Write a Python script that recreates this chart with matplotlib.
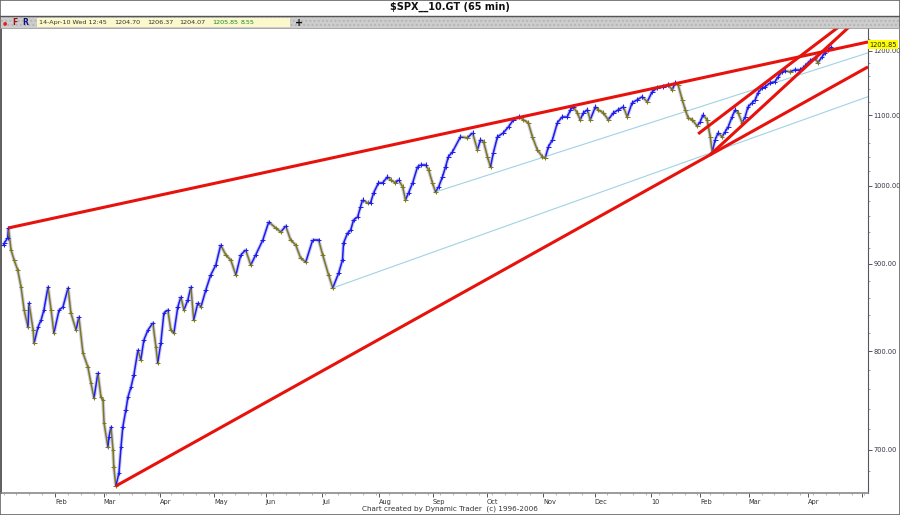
import matplotlib
matplotlib.use("Agg")
import numpy as np
import matplotlib.pyplot as plt
from matplotlib.collections import LineCollection
from matplotlib.patches import Rectangle
from matplotlib.lines import Line2D
from matplotlib.ticker import FixedLocator, FuncFormatter, NullFormatter
from matplotlib.transforms import offset_copy

# trading-day index counted from 2-Jan-2009, close
days = [0.0, 0.3, 1.6, 1.9, 2.9, 4.1, 5.5, 6.8, 8.0, 9.5, 9.9, 11.5, 11.9, 13.4, 14.6,
        15.7, 17.3, 18.5, 19.6, 21.6, 23.1, 25.1, 26.2, 28.2, 29.3, 30.9, 32.8, 34.0,
        35.2, 36.7, 37.9, 38.7, 39.1, 40.6, 41.0, 41.8, 42.6, 42.9, 43.7, 44.9, 45.7,
        46.4, 47.6, 48.4, 49.6, 50.7, 52.3, 53.4, 54.6, 56.2, 58.1, 59.3, 60.0, 61.2,
        62.4, 63.9, 65.1, 66.3, 67.8, 69.0, 70.2, 71.7, 72.9, 74.0, 75.6, 76.8, 78.7,
        80.6, 82.6, 84.5, 86.5, 88.4, 90.4, 92.3, 94.2, 96.2, 98.1, 100.9, 103.2, 105.9,
        107.9, 109.8, 111.7, 113.7, 115.6, 117.6, 120.3, 122.6, 124.2, 126.5, 128.1,
        130.4, 131.9, 132.3, 133.9, 135.1, 136.2, 137.8, 138.9, 139.7, 141.7, 142.8,
        144.0, 145.9, 147.5, 149.4, 150.6, 152.5, 153.7, 155.3, 156.4, 157.6, 159.2,
        161.1, 162.3, 164.2, 165.4, 166.9, 168.1, 169.3, 170.8, 172.0, 173.1, 174.7,
        177.8, 180.5, 182.5, 184.4, 185.6, 186.8, 188.3, 189.5, 190.6, 192.2, 194.5,
        196.5, 198.4, 200.4, 202.3, 204.2, 205.8, 207.7, 209.7, 210.8, 212.0, 213.6,
        215.5, 217.4, 219.4, 220.6, 221.7, 223.3, 224.4, 225.6, 227.2, 228.3, 230.3,
        231.4, 233.4, 235.3, 237.3, 239.2, 241.2, 242.7, 244.6, 246.6, 248.5, 250.5,
        252.4, 254.4, 256.7, 258.6, 260.2, 261.4, 262.5, 264.1, 265.3, 266.4, 268.0,
        269.9, 271.1, 272.2, 273.8, 275.0, 275.8, 276.9, 278.1, 279.6, 280.8, 282.0,
        283.5, 284.7, 285.9, 287.4, 288.6, 289.7, 291.3, 292.5, 293.6, 295.2, 296.3,
        298.3, 300.2, 301.4, 302.9, 304.1, 306.1, 308.0, 309.9, 311.1, 311.9, 313.8,
        315.8, 316.9, 318.5, 319.7, 320.8, 322.0]
closes = [923.3, 925.8, 932.1, 944.8, 917.1, 904.8, 892.6, 872.4, 845.7, 826.5, 853.7,
          823.2, 808.9, 826.5, 834.4, 845.7, 872.4, 845.7, 819.8, 845.7, 849.1, 871.2,
          842.3, 823.2, 837.7, 798.0, 783.1, 766.3, 750.9, 776.7, 751.9, 748.9, 726.0,
          702.8, 712.4, 722.1, 700.0, 684.1, 666.8, 678.6, 702.8, 722.1, 738.9, 751.9,
          762.2, 774.6, 801.2, 790.5, 812.2, 823.2, 831.0, 804.5, 787.3, 808.9, 842.3,
          845.7, 823.2, 819.8, 849.1, 860.7, 845.7, 857.2, 872.4, 834.4, 853.7, 849.1,
          868.8, 886.6, 898.7, 923.3, 910.9, 904.8, 886.6, 910.9, 917.1, 898.7, 910.9,
          929.6, 952.5, 944.8, 939.7, 947.3, 929.6, 923.3, 907.2, 902.3, 929.6, 929.6,
          910.9, 886.6, 871.2, 889.0, 904.8, 925.8, 938.4, 942.2, 955.1, 959.0, 972.0,
          981.3, 977.3, 977.3, 990.6, 1004.1, 1004.1, 1012.3, 1008.2, 1004.1, 1008.2,
          998.7, 981.3, 990.6, 1004.1, 1026.1, 1028.9, 1028.9, 1021.9, 1004.1, 991.9,
          998.7, 1012.3, 1026.1, 1040.1, 1047.1, 1068.5, 1067.1, 1074.3, 1050.0, 1064.2,
          1061.4, 1040.1, 1026.1, 1045.7, 1068.5, 1074.3, 1083.1, 1093.4, 1097.8, 1093.4,
          1088.9, 1068.5, 1050.0, 1040.1, 1038.7, 1054.2, 1064.2, 1088.9, 1097.8, 1097.8,
          1108.2, 1112.7, 1103.7, 1093.4, 1103.7, 1108.2, 1093.4, 1112.7, 1108.2, 1103.7,
          1093.4, 1103.7, 1108.2, 1112.7, 1097.8, 1118.8, 1123.3, 1127.9, 1120.3, 1135.5,
          1141.7, 1143.2, 1146.3, 1138.6, 1149.4, 1146.3, 1123.3, 1108.2, 1096.3, 1093.4,
          1084.3, 1090.4, 1100.8, 1093.4, 1068.5, 1047.1, 1064.2, 1074.3, 1068.5, 1075.8,
          1083.1, 1097.8, 1108.2, 1103.7, 1088.9, 1097.8, 1112.7, 1118.8, 1123.3, 1134.0,
          1141.7, 1143.2, 1149.4, 1151.0, 1158.8, 1166.6, 1168.2, 1166.6, 1169.8, 1169.8,
          1173.0, 1176.1, 1184.1, 1188.9, 1180.9, 1190.5, 1196.9, 1201.8, 1205.85]

# first trading day of each month (same day index)
month_pos = [20, 39, 61, 82, 102, 124, 146, 167, 188, 210, 230, 252, 271, 290, 313, 334]
month_lbl = ["Feb", "Mar", "Apr", "May", "Jun", "Jul", "Aug", "Sep", "Oct", "Nov",
             "Dec", "10", "Feb", "Mar", "Apr", ""]

price_ticks = [700, 800, 900, 1000, 1100, 1200]
last_price = 1205.85
info_fields = ["14-Apr-10 Wed 12:45", "1204.70", "1206.37", "1204.07", "1205.85", "8.55"]

# trend lines as (day, price) anchor pairs, extended to the right edge
red_lines = [((1.9, 944.8), (335.2, 1213.5)),
             ((43.7, 666.8), (275.0, 1042.9)),
             ((270.3, 1072.8), (324.7, 1238.6)),
             ((275.0, 1042.9), (329.4, 1240.9))]
blue_lines = [((128.1, 871.2), (335.2, 1126.4)),
              ((168.1, 991.9), (335.2, 1195.3))]

XMIN, XMAX = -1.0, 336.4
YMIN, YMAX = 660.5, 1237.7
W, H = 900, 515


def extend(a, b, x_end):
    (x0, p0), (x1, p1) = a, b
    lp = np.log(p0) + (np.log(p1) - np.log(p0)) * (x_end - x0) / (x1 - x0)
    return [x0, x_end], [p0, np.exp(lp)]


fig = plt.figure(figsize=(W / 100, H / 100), dpi=100)
fig.patch.set_facecolor("white")


def fx(px):
    return px / W


def fy(py):
    return 1 - py / H


ax = fig.add_axes([fx(1), fy(493), fx(867), 465 / H])
ax.set_yscale("log")
ax.set_xlim(XMIN, XMAX)
ax.set_ylim(YMIN, YMAX)

# trend lines
for a, b in blue_lines:
    xs, ys = extend(a, b, XMAX)
    ax.plot(xs, ys, color="#9fd3e3", lw=0.8, zorder=2)
for a, b in red_lines:
    xs, ys = extend(a, b, XMAX)
    ax.plot(xs, ys, color="#e8120c", lw=2.2, zorder=4, solid_capstyle="butt")

# price bars
x = np.array(days)
y = np.array(closes)
ax.plot(x, y, color="#b9b6ea", lw=2.6, alpha=0.7, zorder=2.5)
pts = np.column_stack([x, y])
segs = np.stack([pts[:-1], pts[1:]], axis=1)
seg_col = ["#1c1cf0" if y[i + 1] >= y[i] else "#7e7a12" for i in range(len(y) - 1)]
ax.add_collection(LineCollection(segs, colors=seg_col, linewidths=1.1, zorder=3))
pt_col = ["#1c1cf0"] + seg_col
ax.scatter(x, y, marker="+", s=12, c=pt_col, linewidths=0.7, zorder=3)

# axes styling
ax.spines["top"].set_visible(False)
ax.spines["left"].set_color("#5a5a5a")
ax.spines["left"].set_linewidth(1.4)
ax.spines["right"].set_color("#555566")
ax.spines["bottom"].set_color("#8a8a8a")
ax.spines["bottom"].set_linewidth(1.2)

ax.yaxis.tick_right()
ax.yaxis.set_major_locator(FixedLocator(price_ticks))
ax.yaxis.set_major_formatter(FuncFormatter(lambda v, p: f"{v:.2f}"))
ax.yaxis.set_minor_locator(FixedLocator(list(range(680, 1240, 20))))
ax.yaxis.set_minor_formatter(NullFormatter())
ax.tick_params(axis="y", which="major", direction="out", length=3, width=0.7,
               color="#555566", labelsize=4.8, labelcolor="#333344", pad=1)
ax.tick_params(axis="y", which="minor", direction="out", length=1.5, width=0.5,
               color="#777788")

ax.set_xticks(month_pos)
ax.set_xticklabels(month_lbl)
ax.xaxis.set_minor_locator(FixedLocator(list(np.arange(0, 336, 5))))
ax.tick_params(axis="x", which="major", direction="out", length=3, width=0.7,
               color="#555555", labelsize=4.8, labelcolor="#333333", pad=1.5)
ax.tick_params(axis="x", which="minor", direction="out", length=1.2, width=0.5,
               color="#999999")
for lbl in ax.get_xticklabels():
    lbl.set_horizontalalignment("left")

# last price flag, nudged up so the 1200.00 label stays readable
flag_tr = offset_copy(ax.get_yaxis_transform(), fig=fig, x=0, y=2.5, units="dots")
ax.text(1.001, last_price, f"{last_price:.2f}", transform=flag_tr,
        fontsize=4.8, color="#222222", va="center", ha="left", zorder=10, clip_on=False,
        bbox=dict(boxstyle="square,pad=0.2", fc="#ffff00", ec="none"))

# header: title strip and toolbar strip
fig.text(0.5, fy(7), r"\$SPX__10.GT (65 min)", ha="center", va="center",
         fontsize=7, fontweight="bold", color="#111111")
fig.add_artist(Line2D([0, 1], [fy(15.5), fy(15.5)], color="#555555", lw=1.0))
fig.add_artist(Rectangle((0, fy(27.5)), 1, (27.5 - 16) / H, transform=fig.transFigure,
                         fc="#cdcdcd", ec="#b5b5b5", hatch="....", lw=0))
fig.add_artist(Line2D([0, 1], [fy(27.5), fy(27.5)], color="#9a9a9a", lw=0.6))
fig.add_artist(Rectangle((fx(37), fy(27)), fx(253), 9 / H, transform=fig.transFigure,
                         fc="#fbf8cc", ec="none"))
fig.text(fx(5), fy(22.5), "\u25CF", color="#e02020", fontsize=3.5, ha="center", va="center")
fig.text(fx(15), fy(22.5), "F", color="#a01010", fontsize=5.5, fontweight="bold",
         ha="center", va="center")
fig.text(fx(25), fy(22.5), "R", color="#101080", fontsize=5.5, fontweight="bold",
         ha="center", va="center")
info_x = [39, 114, 147, 179, 212, 241]
for i, (px, s) in enumerate(zip(info_x, info_fields)):
    fig.text(fx(px), fy(22.5), s, fontsize=4.6, ha="left", va="center",
             color="#1a8a1a" if i >= 4 else "#333333")
fig.text(fx(299), fy(22.5), "+", fontsize=7, fontweight="bold", ha="center",
         va="center", color="#111111")

# footer and outer frame
fig.text(0.5, fy(508.5), "Chart created by Dynamic Trader  (c) 1996-2006",
         ha="center", va="center", fontsize=5.2, color="#333333")
fig.add_artist(Rectangle((0, 0), 1, 1, transform=fig.transFigure, fc="none",
                         ec="#666666", lw=1.2))

fig.savefig("out.png", dpi=100)
